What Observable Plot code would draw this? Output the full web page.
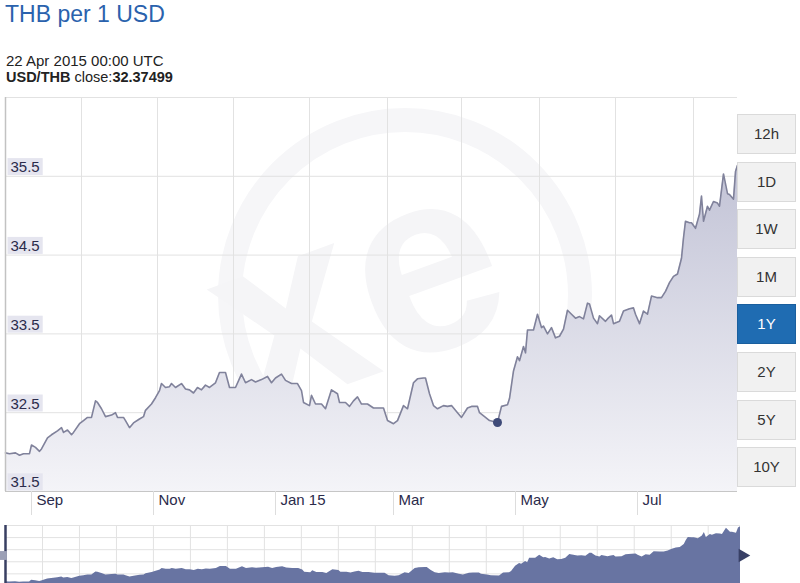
<!DOCTYPE html>
<html><head><meta charset="utf-8">
<script src="https://cdn.jsdelivr.net/npm/d3@7"></script>
<script src="https://cdn.jsdelivr.net/npm/@observablehq/plot@0.6"></script>
<style>
body{margin:0;background:#fff;font-family:"Liberation Sans",Arial,sans-serif;width:800px;height:583px;overflow:hidden;position:relative}
.abs{position:absolute}
#title{left:5px;top:3px;font-size:23px;line-height:23px;color:#2a62ad;white-space:nowrap}
#stamp{left:6px;top:53px;font-size:15px;line-height:15px;color:#222;white-space:nowrap}
#close{left:6px;top:70px;font-size:14.5px;line-height:14.5px;color:#222;white-space:nowrap}
.btn{position:absolute;left:737px;width:57px;height:38px;border:1px solid #dadada;background:#f1f1f1;color:#333;font-size:15px;line-height:38px;text-align:center}
.btn.on{background:#1f6cb2;border-color:#1a5f9e;color:#fff}
#wm{left:0;top:0}
#main{left:0;top:95px}
#nav{left:0;top:521px}
</style></head><body>
<div id="title" class="abs">THB per 1 USD</div>
<div id="stamp" class="abs">22 Apr 2015 00:00 UTC</div>
<div id="close" class="abs"><b>USD/THB</b> close:<b>32.37499</b></div>
<svg id="wm" class="abs" width="740" height="500">
  <circle cx="405" cy="295" r="175" fill="none" stroke="#f6f6f8" stroke-width="24"/>
  <text x="360" y="375" text-anchor="middle" font-size="260" font-weight="bold" fill="#f5f5f7" font-family="Liberation Sans, Arial" transform="rotate(-20 360 300)">xe</text>
</svg>
<div id="main" class="abs"></div>
<div id="nav" class="abs"></div>
<script>
// ---- data ----
const dates = ["2014-08-19","2014-08-21","2014-08-24","2014-08-26","2014-08-28","2014-08-31","2014-09-01","2014-09-03","2014-09-05","2014-09-06",
"2014-09-09","2014-09-11","2014-09-14","2014-09-16","2014-09-17","2014-09-19","2014-09-21","2014-09-22","2014-09-25","2014-09-27",
"2014-09-29","2014-10-01","2014-10-03","2014-10-04","2014-10-06","2014-10-08","2014-10-11","2014-10-13","2014-10-14","2014-10-17",
"2014-10-18","2014-10-20","2014-10-22","2014-10-25","2014-10-27","2014-10-28","2014-10-31","2014-11-02","2014-11-04","2014-11-05",
"2014-11-07","2014-11-09","2014-11-10","2014-11-12","2014-11-15","2014-11-17","2014-11-19","2014-11-21","2014-11-23","2014-11-25",
"2014-11-27","2014-11-29","2014-12-02","2014-12-04","2014-12-07","2014-12-09","2014-12-12","2014-12-15","2014-12-17","2014-12-20",
"2014-12-22","2014-12-25","2014-12-28","2014-12-30","2015-01-01","2015-01-04","2015-01-06","2015-01-09","2015-01-12","2015-01-14",
"2015-01-15","2015-01-18","2015-01-19","2015-01-21","2015-01-24","2015-01-26","2015-01-29","2015-02-01","2015-02-02","2015-02-05",
"2015-02-07","2015-02-09","2015-02-11","2015-02-13","2015-02-16","2015-02-19","2015-02-21","2015-02-24","2015-02-26","2015-03-01",
"2015-03-03","2015-03-06","2015-03-08","2015-03-11","2015-03-13","2015-03-16","2015-03-17","2015-03-19","2015-03-21","2015-03-23",
"2015-03-26","2015-03-28","2015-03-30","2015-04-02","2015-04-04","2015-04-07","2015-04-09","2015-04-12","2015-04-13","2015-04-16",
"2015-04-18","2015-04-22","2015-04-24","2015-04-27","2015-04-28","2015-04-30","2015-05-02","2015-05-03","2015-05-05","2015-05-06",
"2015-05-07","2015-05-10","2015-05-12","2015-05-14","2015-05-15","2015-05-17","2015-05-19","2015-05-21","2015-05-23","2015-05-25",
"2015-05-27","2015-05-29","2015-05-31","2015-06-02","2015-06-04","2015-06-06","2015-06-07","2015-06-09","2015-06-11","2015-06-12",
"2015-06-15","2015-06-16","2015-06-18","2015-06-19","2015-06-22","2015-06-24","2015-06-27","2015-06-29","2015-06-30","2015-07-02",
"2015-07-04","2015-07-06","2015-07-08","2015-07-11","2015-07-13","2015-07-15","2015-07-17","2015-07-19","2015-07-21","2015-07-23",
"2015-07-24","2015-07-25","2015-07-27","2015-07-28","2015-07-30","2015-08-01","2015-08-02","2015-08-03","2015-08-05","2015-08-06",
"2015-08-08","2015-08-10","2015-08-11","2015-08-13","2015-08-15","2015-08-16","2015-08-18","2015-08-19","2015-08-20"];
const values = [31.99,31.98,31.99,31.96,31.98,31.98,32.09,32.06,32.01,32.04,
32.18,32.22,32.27,32.31,32.25,32.28,32.22,32.25,32.36,32.40,
32.44,32.44,32.65,32.63,32.55,32.45,32.47,32.50,32.44,32.44,
32.40,32.31,32.37,32.42,32.45,32.53,32.61,32.69,32.78,32.87,
32.82,32.83,32.87,32.82,32.87,32.80,32.79,32.75,32.82,32.79,
32.85,32.82,32.88,33.01,33.01,32.82,32.82,32.99,32.88,32.92,
32.89,32.92,32.96,32.88,32.94,32.99,32.91,32.87,32.87,32.78,
32.63,32.59,32.72,32.61,32.61,32.55,32.79,32.74,32.63,32.63,
32.58,32.65,32.70,32.61,32.61,32.56,32.56,32.56,32.40,32.36,
32.40,32.59,32.55,32.88,32.93,32.94,32.94,32.74,32.59,32.55,
32.59,32.58,32.59,32.50,32.44,32.56,32.58,32.58,32.50,32.44,
32.40,32.37499,32.58,32.60,32.68,33.03,33.21,33.16,33.34,33.26,
33.55,33.55,33.75,33.58,33.60,33.50,33.58,33.45,33.47,33.56,
33.80,33.75,33.70,33.72,33.69,33.89,33.88,33.70,33.63,33.73,
33.66,33.69,33.74,33.63,33.66,33.79,33.82,33.83,33.75,33.63,
33.79,33.75,33.98,33.96,33.96,34.04,34.15,34.23,34.26,34.46,
34.72,34.93,34.91,34.91,34.84,35.02,35.25,34.93,35.12,35.07,
35.18,35.16,35.12,35.53,35.28,35.27,35.21,35.56,35.64];
const yTicks = [31.5, 32.5, 33.5, 34.5, 35.5, 36.5];
const yLabelTicks = [31.5, 32.5, 33.5, 34.5, 35.5];
const monthTicks = ["2014-09-01","2014-11-01","2015-01-01","2015-03-01","2015-05-01","2015-07-01"];
const monthLabels = ["Sep","Nov","Jan 15","Mar","May","Jul"];
const gridDates = ["2014-09-26","2014-11-03","2014-12-11","2015-01-18","2015-02-26","2015-04-04","2015-05-13","2015-06-20","2015-07-29"];
const hoverDate = "2015-04-22";
const rangeButtons = ["12h","1D","1W","1M","1Y","2Y","5Y","10Y"];
const activeRange = "1Y";
const navTicks = [35.72, 34.92, 34.12, 33.32, 32.52];

// ---- build ----
const data = dates.map((d, i) => ({date: new Date(d), value: values[i]}));
const xDomain = [data[0].date, data[data.length - 1].date];
const yDomain = [31.5, 36.5];
const navDomain = [31.75, 35.72];
const mTicks = monthTicks.map(d => new Date(d));
const labelMap = new Map(mTicks.map((d, i) => [+d, monthLabels[i]]));
const hover = data.filter(d => +d.date === +new Date(hoverDate));

const main = Plot.plot({
  width: 740, height: 425,
  marginLeft: 5, marginRight: 3, marginTop: 2, marginBottom: 29,
  style: {background: "transparent", overflow: "visible", fontFamily: "Liberation Sans, Arial, sans-serif", fontSize: "15px"},
  x: {type: "utc", domain: xDomain, label: null, axis: null},
  y: {domain: yDomain, label: null, axis: null},
  marks: [
    Plot.gridX({ticks: gridDates.map(d => new Date(d)), stroke: "#e2e2e2", strokeOpacity: 1}),
    Plot.gridY({ticks: yTicks, stroke: "#e2e2e2", strokeOpacity: 1}),
    Plot.areaY(data, {x: "date", y1: yDomain[0], y2: "value", fill: "url(#thbFill)"}),
    Plot.line(data, {x: "date", y: "value", stroke: "#80829b", strokeWidth: 1.6}),
    Plot.ruleX([xDomain[0]], {stroke: "#c2c2c2", strokeWidth: 1.5}),
    Plot.ruleY([yDomain[0]], {stroke: "#c6c6c6"}),
    Plot.axisX({ticks: mTicks, tickSize: 24, stroke: "#dddddd", tickFormat: () => ""}),
    Plot.axisX({ticks: mTicks, tickSize: 0, tickPadding: 3, tickFormat: d => labelMap.get(+d),
      textAnchor: "start", dx: 5, fontSize: 15, fill: "#2b2b4b"}),
    Plot.axisY({ticks: yLabelTicks, tickSize: 0, tickPadding: 0, textAnchor: "start", dx: 5, dy: -9,
      tickFormat: d => d.toFixed(1), fontSize: 15, fill: "#2b2b4b"}),
    Plot.dot(hover, {x: "date", y: "value", r: 4.5, fill: "#3e4a78"})
  ]
});
document.getElementById("main").appendChild(main);

const svg = d3.select(main);
const grad = svg.insert("defs", ":first-child").append("linearGradient")
  .attr("id", "thbFill").attr("x1", 0).attr("y1", 0).attr("x2", 0).attr("y2", 1);
grad.append("stop").attr("offset", "0%").attr("stop-color", "#c2c3d6");
grad.append("stop").attr("offset", "100%").attr("stop-color", "#f4f4f8");

svg.selectAll('g[aria-label="y-axis tick label"] text').each(function () {
  const b = this.getBBox();
  d3.select(this.parentNode).insert("rect", () => this)
    .attr("x", b.x - 3).attr("y", b.y).attr("width", b.width + 6).attr("height", b.height)
    .attr("fill", "#e5e5ef").attr("transform", this.getAttribute("transform"));
});

const navGrid = d3.utcHour.range(xDomain[0], xDomain[1], 442);
const nav = Plot.plot({
  width: 745, height: 64,
  marginLeft: 5, marginRight: 5, marginTop: 4, marginBottom: 0,
  style: {background: "transparent", overflow: "visible"},
  x: {type: "utc", domain: xDomain, axis: null},
  y: {domain: navDomain, axis: null},
  marks: [
    Plot.gridY({ticks: navTicks, stroke: "#e2e2e2", strokeOpacity: 1}),
    Plot.gridX({ticks: navGrid, stroke: "#e2e2e2", strokeOpacity: 1}),
    Plot.areaY(data, {x: "date", y1: navDomain[0], y2: "value", fill: "#6874a2"}),
    Plot.ruleX([xDomain[0]], {stroke: "#383f62", strokeWidth: 2.5}),
    Plot.dot([xDomain[0]], {x: d => d, frameAnchor: "middle", symbol: "square", r: 5, dx: -3, fill: "#9ca0b6"}),
    Plot.dot([xDomain[1]], {x: d => d, frameAnchor: "middle", symbol: "triangle", rotate: 90, r: 5, dx: 2, fill: "#384066"})
  ]
});
document.getElementById("nav").appendChild(nav);

rangeButtons.forEach((t, i) => {
  const b = document.createElement("div");
  b.className = "btn" + (t === activeRange ? " on" : "");
  b.style.top = (114 + i * 47.6) + "px";
  b.textContent = t;
  document.body.appendChild(b);
});
</script>
</body></html>
